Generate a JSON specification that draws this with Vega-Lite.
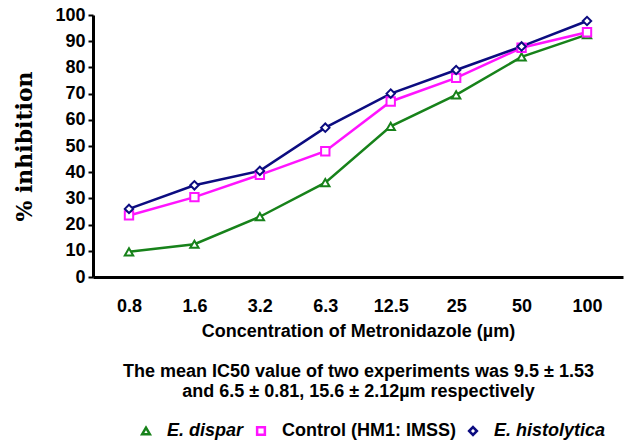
{
  "$schema": "https://vega.github.io/schema/vega-lite/v6.json",
  "width": 530,
  "height": 262,
  "autosize": {"type": "none"},
  "padding": {"left": 93, "top": 15, "right": 3, "bottom": 166},
  "background": "white",
  "config": {
    "view": {"stroke": null},
    "font": "Liberation Sans",
    "axis": {"grid": false, "domainColor": "black", "domainWidth": 3, "labelColor": "black", "titleColor": "black", "labelFont": "Liberation Sans", "labelFontWeight": "bold", "labelFontSize": 18},
    "legend": {
      "labelFont": "Liberation Sans",
      "labelFontSize": 18,
      "labelFontWeight": "bold",
      "labelColor": "black",
      "labelOffset": 12,
      "labelLimit": 400,
      "columnPadding": 8,
      "symbolStrokeWidth": 2.5,
      "symbolSize": 60,
      "symbolFillColor": "white"
    }
  },
  "data": {
    "values": [
      {"conc": "0.8", "order": 1, "series": "E. dispar", "value": 9.6},
      {"conc": "1.6", "order": 2, "series": "E. dispar", "value": 12.5},
      {"conc": "3.2", "order": 3, "series": "E. dispar", "value": 23},
      {"conc": "6.3", "order": 4, "series": "E. dispar", "value": 36},
      {"conc": "12.5", "order": 5, "series": "E. dispar", "value": 57.5},
      {"conc": "25", "order": 6, "series": "E. dispar", "value": 69.5},
      {"conc": "50", "order": 7, "series": "E. dispar", "value": 84},
      {"conc": "100", "order": 8, "series": "E. dispar", "value": 92.5},
      {"conc": "0.8", "order": 1, "series": "Control (HM1: IMSS)", "value": 23.5},
      {"conc": "1.6", "order": 2, "series": "Control (HM1: IMSS)", "value": 30.5},
      {"conc": "3.2", "order": 3, "series": "Control (HM1: IMSS)", "value": 39},
      {"conc": "6.3", "order": 4, "series": "Control (HM1: IMSS)", "value": 48},
      {"conc": "12.5", "order": 5, "series": "Control (HM1: IMSS)", "value": 67},
      {"conc": "25", "order": 6, "series": "Control (HM1: IMSS)", "value": 76},
      {"conc": "50", "order": 7, "series": "Control (HM1: IMSS)", "value": 87.5},
      {"conc": "100", "order": 8, "series": "Control (HM1: IMSS)", "value": 93.4},
      {"conc": "0.8", "order": 1, "series": "E. histolytica", "value": 26},
      {"conc": "1.6", "order": 2, "series": "E. histolytica", "value": 35},
      {"conc": "3.2", "order": 3, "series": "E. histolytica", "value": 40.5},
      {"conc": "6.3", "order": 4, "series": "E. histolytica", "value": 57},
      {"conc": "12.5", "order": 5, "series": "E. histolytica", "value": 70},
      {"conc": "25", "order": 6, "series": "E. histolytica", "value": 79},
      {"conc": "50", "order": 7, "series": "E. histolytica", "value": 88},
      {"conc": "100", "order": 8, "series": "E. histolytica", "value": 97.7}
    ]
  },
  "encoding": {
    "x": {
      "field": "conc",
      "type": "ordinal",
      "sort": ["0.8", "1.6", "3.2", "6.3", "12.5", "25", "50", "100"],
      "scale": {"type": "point", "padding": 0.55},
      "axis": {
        "labelAngle": 0,
        "ticks": false,
        "labelPadding": 20,
        "title": ["Concentration of Metronidazole (µm)", "\u200b", "The mean IC50 value of two experiments was 9.5 ± 1.53", "and 6.5 ± 0.81, 15.6 ± 2.12µm respectively"],
        "titleFont": "Liberation Sans",
        "titleFontSize": 18,
        "titleFontWeight": "bold",
        "titleLineHeight": 20,
        "titlePadding": 7
      }
    },
    "y": {
      "field": "value",
      "type": "quantitative",
      "scale": {"domain": [0, 100]},
      "axis": {
        "values": [0, 10, 20, 30, 40, 50, 60, 70, 80, 90, 100],
        "tickSize": 5,
        "tickWidth": 2,
        "tickColor": "black",
        "labelPadding": 3,
        "title": "% inhibition",
        "titleFont": "DejaVu Serif",
        "titleFontSize": 22,
        "titleFontWeight": "bold",
        "titlePadding": 18
      }
    },
    "stroke": {
      "field": "series",
      "type": "nominal",
      "scale": {"domain": ["E. dispar", "Control (HM1: IMSS)", "E. histolytica"], "range": ["#17821a", "#ff14ff", "#0c0c80"]},
      "legend": {
        "title": null,
        "orient": "none",
        "direction": "horizontal",
        "legendX": 44,
        "legendY": 407,
        "labelFontStyle": {"expr": "datum.label == 'Control (HM1: IMSS)' ? 'normal' : 'italic'"}
      }
    }
  },
  "layer": [
    {
      "mark": {"type": "line", "strokeWidth": 2.5},
      "encoding": {
        "order": {"field": "order", "type": "quantitative"}
      }
    },
    {
      "mark": {"type": "point", "fill": "white", "filled": false, "strokeWidth": 2, "size": 70, "opacity": 1},
      "encoding": {
        "shape": {
          "field": "series",
          "type": "nominal",
          "scale": {"domain": ["E. dispar", "Control (HM1: IMSS)", "E. histolytica"], "range": ["triangle-up", "square", "diamond"]},
          "legend": {
            "title": null,
            "orient": "none",
            "direction": "horizontal",
            "legendX": 44,
            "legendY": 407,
            "labelFontStyle": {"expr": "datum.label == 'Control (HM1: IMSS)' ? 'normal' : 'italic'"}
          }
        }
      }
    }
  ]
}
